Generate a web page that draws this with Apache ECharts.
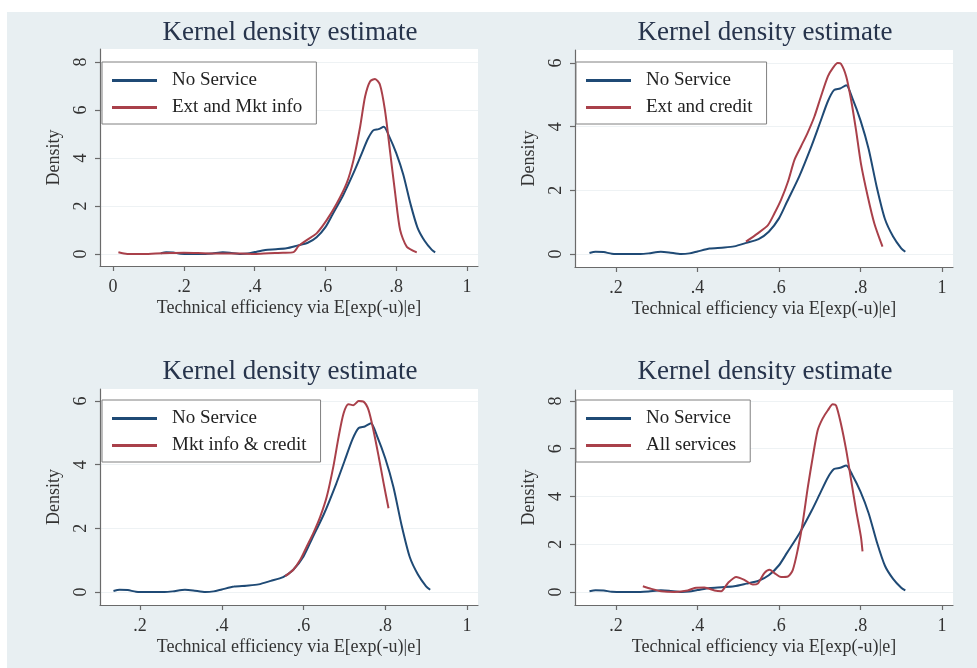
<!DOCTYPE html>
<html><head><meta charset="utf-8">
<script src="https://cdn.jsdelivr.net/npm/echarts@6/dist/echarts.min.js"></script>
<style>html,body{margin:0;padding:0;background:#fff}#c{width:977px;height:668px}</style>
</head><body><div id="c"></div>
<script>
// ---- data ----
const noServiceX = [0.135,0.15,0.17,0.19,0.22,0.26,0.28,0.31,0.33,0.36,0.38,0.40,0.43,0.46,0.49,0.52,0.55,0.575,0.60,0.62,0.65,0.68,0.70,0.72,0.735,0.75,0.765,0.78,0.80,0.82,0.84,0.86,0.88,0.90,0.91];
const noServiceY = [0.03,0.07,0.06,0.01,0,0,0.02,0.07,0.05,0,0.02,0.08,0.17,0.2,0.24,0.35,0.47,0.7,1.12,1.65,2.45,3.4,4.1,4.8,5.15,5.2,5.3,4.9,4.2,3.3,2.1,1.1,0.55,0.18,0.07];

const extMktX = [0.015,0.04,0.08,0.12,0.16,0.2,0.24,0.28,0.32,0.36,0.40,0.44,0.48,0.51,0.525,0.547,0.575,0.604,0.632,0.66,0.679,0.698,0.712,0.726,0.74,0.754,0.768,0.782,0.797,0.811,0.83,0.858];
const extMktY = [0.07,0.0,0.0,0.02,0.04,0.05,0.04,0.02,0.02,0.02,0.0,0.03,0.05,0.08,0.35,0.58,0.86,1.42,2.1,2.95,3.9,5.3,6.56,7.19,7.29,7.05,6.0,4.34,2.53,1.0,0.3,0.07];

const extCreditX = [0.519,0.548,0.573,0.589,0.605,0.622,0.638,0.654,0.67,0.687,0.703,0.72,0.732,0.744,0.752,0.765,0.777,0.789,0.801,0.818,0.834,0.854];
const extCreditY = [0.39,0.65,0.91,1.28,1.7,2.27,2.96,3.38,3.8,4.32,4.95,5.58,5.84,6.0,5.98,5.58,4.84,3.9,2.85,1.8,0.96,0.23];

const mktCreditX = [0.555,0.575,0.592,0.608,0.624,0.641,0.657,0.673,0.686,0.698,0.71,0.722,0.735,0.747,0.759,0.771,0.784,0.796,0.808];
const mktCreditY = [0.5,0.7,1.01,1.43,1.85,2.37,3.0,3.94,4.88,5.61,5.9,5.87,6.0,5.98,5.72,5.09,4.25,3.42,2.63];

const allX = [0.266,0.287,0.311,0.344,0.376,0.393,0.417,0.442,0.458,0.475,0.495,0.515,0.536,0.548,0.564,0.577,0.589,0.605,0.622,0.634,0.646,0.658,0.671,0.683,0.695,0.707,0.72,0.732,0.74,0.752,0.765,0.777,0.789,0.801,0.805];
const allY = [0.24,0.13,0.03,0,0.06,0.17,0.19,0.06,0.03,0.38,0.63,0.51,0.31,0.35,0.79,0.93,0.79,0.63,0.65,0.93,1.77,2.88,4.41,5.66,6.77,7.26,7.61,7.86,7.82,7.05,5.94,4.69,3.44,2.32,1.7];

const seriesNames = ['Ext and Mkt info','Ext and credit','Mkt info & credit','All services'];
const baseName = 'No Service';

const xTicksA = [0,0.2,0.4,0.6,0.8,1];
const xLabelsA = ['0','.2','.4','.6','.8','1'];
const xTicksB = [0.2,0.4,0.6,0.8,1];
const xLabelsB = ['.2','.4','.6','.8','1'];
const yTicks8 = [0,2,4,6,8];
const yTicks6 = [0,2,4,6];

const titleText = 'Kernel density estimate';
const xTitle = 'Technical efficiency via E[exp(-u)|e]';
const yTitle = 'Density';

// ---- layout ----
const FONT = '"Liberation Serif","Times New Roman",serif';
const panels = [
  {grid:{left:100,top:49,width:378,height:217}, xmin:-0.037, xmax:1.031, ymin:-0.5, ymax:8.54, xt:xTicksA, xl:xLabelsA, yt:yTicks8, red:[extMktX,extMktY], name:seriesNames[0], title:[290,33], legend:{left:102,top:62}},
  {grid:{left:575,top:50,width:378,height:217}, xmin:0.0995, xmax:1.027, ymin:-0.408, ymax:6.41, xt:xTicksB, xl:xLabelsB, yt:yTicks6, red:[extCreditX,extCreditY], name:seriesNames[1], title:[765,33], legend:{left:576,top:62}},
  {grid:{left:100,top:389,width:378,height:216}, xmin:0.102, xmax:1.027, ymin:-0.408, ymax:6.377, xt:xTicksB, xl:xLabelsB, yt:yTicks6, red:[mktCreditX,mktCreditY], name:seriesNames[2], title:[290,372], legend:{left:102,top:400}},
  {grid:{left:575,top:390,width:378,height:215}, xmin:0.0995, xmax:1.027, ymin:-0.545, ymax:8.46, xt:xTicksB, xl:xLabelsB, yt:yTicks8, red:[allX,allY], name:seriesNames[3], title:[765,372], legend:{left:576,top:400}}
];

const zip = (xs, ys) => xs.map((x, i) => [x, ys[i]]);
const AX = '#6a6a6a';
const BLUE = '#1f4a75';
const RED = '#a9404a';

const option = {
  backgroundColor: '#e8eff2',
  animation: false,
  grid: [], xAxis: [], yAxis: [], series: [], legend: [],
  graphic: [
    {type:'rect', shape:{x:0,y:0,width:977,height:12}, style:{fill:'#fff'}, silent:true},
    {type:'rect', shape:{x:0,y:0,width:7,height:668}, style:{fill:'#fff'}, silent:true}
  ]
};

panels.forEach((p, i) => {
  option.grid.push(Object.assign({show:true, backgroundColor:'#fff', borderWidth:0}, p.grid));
  option.xAxis.push({
    type:'value', gridIndex:i, min:p.xmin, max:p.xmax,
    axisLine:{show:true, onZero:false, lineStyle:{color:AX, width:1.2}},
    axisTick:{show:true, length:5, customValues:p.xt, lineStyle:{color:AX, width:1.2}},
    axisLabel:{customValues:p.xt, formatter:(v)=>{const k=p.xt.findIndex(t=>Math.abs(t-v)<1e-6); return k>=0?p.xl[k]:'';}, fontFamily:FONT, fontSize:18, color:'#333', margin:12},
    splitLine:{show:false},
    name:xTitle, nameLocation:'middle', nameGap:33, nameTextStyle:{fontFamily:FONT, fontSize:18, color:'#333'}
  });
  option.yAxis.push({
    type:'value', gridIndex:i, min:p.ymin, max:p.ymax,
    axisLine:{show:true, onZero:false, lineStyle:{color:AX, width:1.2}},
    axisTick:{show:true, length:5, customValues:p.yt, lineStyle:{color:AX, width:1.2}},
    axisLabel:{customValues:p.yt, rotate:90, fontFamily:FONT, fontSize:18, color:'#333', margin:10},
    splitLine:{show:true, lineStyle:{color:'#eef2f4', width:1}},
    name:yTitle, nameLocation:'middle', nameGap:37, nameRotate:90, nameTextStyle:{fontFamily:FONT, fontSize:18, color:'#333'}
  });
  option.series.push({
    type:'line', name:baseName, xAxisIndex:i, yAxisIndex:i, data:zip(noServiceX, noServiceY),
    symbol:'none', smooth:0.25, lineStyle:{color:BLUE, width:2}, itemStyle:{color:BLUE}, clip:true
  });
  option.series.push({
    type:'line', name:p.name, xAxisIndex:i, yAxisIndex:i, data:zip(p.red[0], p.red[1]),
    symbol:'none', smooth:0.25, lineStyle:{color:RED, width:2}, itemStyle:{color:RED}, clip:true
  });
  option.legend.push({
    left:p.legend.left, top:p.legend.top, orient:'vertical', data:[baseName, p.name],
    icon:'rect', itemWidth:45, itemHeight:3, itemGap:8, selectedMode:false,
    borderColor:'#808080', borderWidth:1, backgroundColor:'#fff', padding:[9,14,7,10],
    textStyle:{fontFamily:FONT, fontSize:19, color:'#222', padding:[0,0,0,10]}
  });
  option.graphic.push({type:'text', x:p.title[0], y:p.title[1], silent:true,
    style:{text:titleText, fontFamily:FONT, fontSize:27, fill:'#27344c', align:'center', verticalAlign:'middle'}});
});

const chart = echarts.init(document.getElementById('c'), null, {renderer:'canvas'});
chart.setOption(option);
</script></body></html>
